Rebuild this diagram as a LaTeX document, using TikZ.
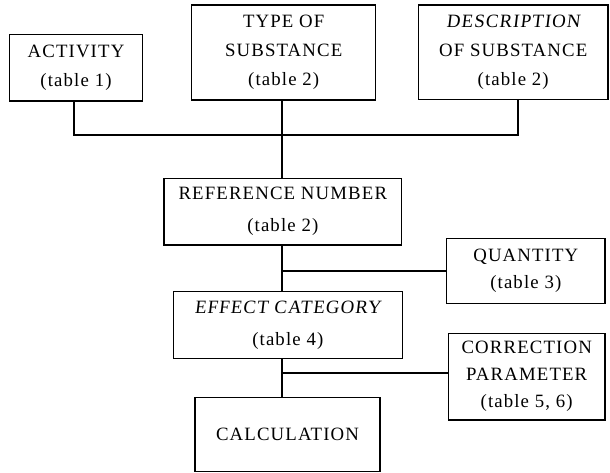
\documentclass[tikz,border=0pt]{standalone}
\usepackage{fontspec}
\newfontfamily\boxfont{Liberation Serif}[LetterSpace=6]
\newfontfamily\boxslfont{Liberation Serif}[LetterSpace=6,FakeSlant=0.12]
\begin{document}
\begin{tikzpicture}[x=1pt,y=-1pt,
  box/.style={draw, line width=1.3pt, inner sep=0pt, align=center,
    font=\boxfont\fontsize{18.8}{29}\selectfont},
  conn/.style={line width=1.7pt}]
\useasboundingbox (0,0) rectangle (610,473);
\node[box, minimum width=133.4pt, minimum height=66.7pt] (act) at (76,67.7) {ACTIVITY\\(table 1)};
\node[box, minimum width=184pt, minimum height=95pt] (type) at (283.7,52.5) {TYPE OF\\SUBSTANCE\\(table 2)};
\node[box, minimum width=189.7pt, minimum height=94.3pt] (desc) at (513.2,52.2) {{\boxslfont DESCRIPTION}\\OF SUBSTANCE\\(table 2)};
\node[box, minimum width=237.7pt, minimum height=66.7pt, font=\boxfont\fontsize{18.8}{32}\selectfont] (ref) at (282.8,211.7) {REFERENCE NUMBER\\(table 2)};
\node[box, minimum width=158.3pt, minimum height=65pt, font=\boxfont\fontsize{18.8}{27}\selectfont] (qty) at (525.8,270.8) {QUANTITY\\(table 3)};
\node[box, minimum width=229pt, minimum height=66.7pt, font=\boxfont\fontsize{18.8}{32}\selectfont] (eff) at (287.8,325) {{\boxslfont EFFECT CATEGORY}\\(table 4)};
\node[box, minimum width=156.7pt, minimum height=86.7pt, font=\boxfont\fontsize{18.8}{27}\selectfont] (corr) at (526.7,376.7) {CORRECTION\\PARAMETER\\(table 5, 6)};
\node[box, minimum width=185pt, minimum height=74.4pt] (calc) at (287.5,434.5) {CALCULATION};
\coordinate (busy) at (0,135);
\coordinate (trunk) at (281.7,0);
\coordinate (descdrop) at ([xshift=5pt]desc.south);
\draw[conn] ([xshift=-2pt]act.south) |- (descdrop |- busy) -- (descdrop);
\draw[conn] (trunk |- type.south) -- (trunk |- ref.north);
\draw[conn] (trunk |- ref.south) -- (trunk |- eff.north);
\draw[conn] (trunk |- qty.west) -- (qty.west);
\draw[conn] (trunk |- eff.south) -- (trunk |- calc.north);
\coordinate (corrin) at ([yshift=4pt]corr.west);
\draw[conn] (trunk |- corrin) -- (corrin);
\end{tikzpicture}
\end{document}
